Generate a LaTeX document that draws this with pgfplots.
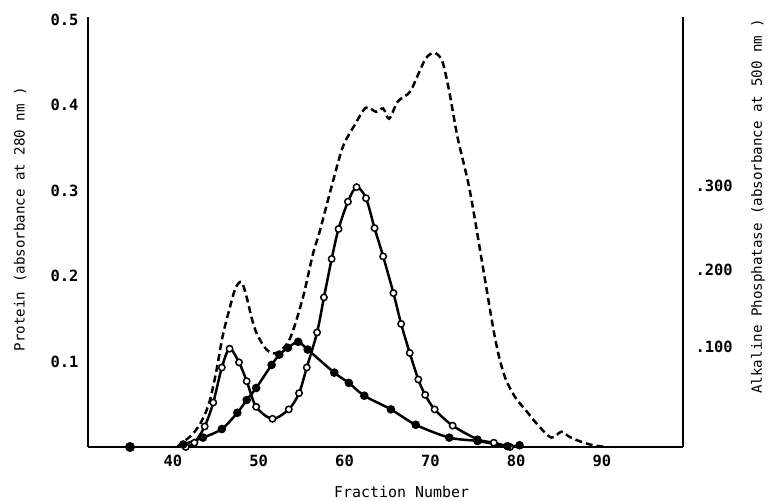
\documentclass[border=0pt]{standalone}
\usepackage{pgfplots}
\pgfplotsset{compat=1.18}
\usepackage{fontspec}
\setmainfont{DejaVu Sans Mono}

% protein, absorbance at 280 nm (dashed trace)
\pgfplotstableread{
x y
40.5 0.000
41.2 0.006
42.2 0.014
43.1 0.026
43.8 0.040
44.4 0.058
45.1 0.091
45.8 0.130
46.6 0.162
47.3 0.186
48.0 0.193
48.6 0.175
49.2 0.150
49.8 0.132
50.9 0.114
52.1 0.110
53.6 0.126
55.1 0.173
56.3 0.225
57.1 0.252
58.5 0.305
59.8 0.351
61.2 0.377
62.5 0.397
63.7 0.392
64.5 0.396
65.2 0.384
66.2 0.404
67.6 0.415
68.5 0.434
69.5 0.455
70.5 0.461
71.4 0.451
72.2 0.416
73.2 0.361
74.6 0.300
76.3 0.200
77.4 0.135
78.1 0.102
78.8 0.079
79.9 0.058
81.2 0.042
82.6 0.025
84.1 0.011
85.3 0.018
86.2 0.012
87.6 0.006
89.0 0.002
90.5 0.000
}\protein

% open circles
\pgfplotstableread{
x y
41.5 0.000
42.5 0.005
43.7 0.024
44.7 0.052
45.7 0.093
46.6 0.115
47.7 0.099
48.6 0.077
49.7 0.047
51.6 0.033
53.5 0.044
54.7 0.063
55.6 0.093
56.8 0.134
57.6 0.175
58.5 0.220
59.3 0.255
60.4 0.287
61.4 0.304
62.5 0.291
63.5 0.256
64.5 0.223
65.7 0.180
66.6 0.144
67.6 0.110
68.6 0.079
69.4 0.061
70.5 0.044
72.6 0.025
75.5 0.009
77.4 0.005
79.3 0.000
}\opencirc

% filled dots
\pgfplotstableread{
x y
41.2 0.003
43.5 0.011
45.7 0.021
47.5 0.040
48.6 0.055
49.7 0.069
51.5 0.096
52.4 0.108
53.4 0.116
54.6 0.123
55.7 0.114
58.8 0.087
60.5 0.075
62.3 0.060
65.4 0.044
68.3 0.026
72.2 0.011
75.5 0.007
79.0 0.001
80.4 0.002
}\filled

\begin{document}
\begin{tikzpicture}
\path[use as bounding box] (-88bp,-54bp) rectangle (682bp,447bp);
\begin{axis}[
  scale only axis, width=595bp, height=430bp,
  xmin=30.1, xmax=99.45, ymin=0, ymax=0.503,
  axis x line*=bottom, axis y line*=left,
  axis line style={line width=2.5pt},
  xtick={40,50,60,70,80,90}, xticklabels={40,50,60,70,80,90},
  ytick={0.1,0.2,0.3,0.4,0.5}, yticklabels={0.1,0.2,0.3,0.4,0.5},
  major tick length=0,
  tick label style={font=\fontsize{15.5}{17}\selectfont\bfseries},
  xticklabel style={yshift=-5bp},
  yticklabel style={xshift=-6bp},
  xlabel={Fraction Number},
  ylabel={Protein (absorbance at 280 nm )},
  every axis x label/.style={at={(axis description cs:0.527,-0.105)}, anchor=center,
    font=\fontsize{15}{17}\selectfont},
  every axis y label/.style={at={(axis description cs:-0.114,0.53)}, anchor=center, rotate=90,
    font=\fontsize{14.2}{16}\selectfont},
]
\addplot[black, line width=2.5pt, dash pattern=on 7pt off 4pt, smooth, tension=0.5] table {\protein};
\addplot[black, line width=2.5pt, smooth, tension=0.5, mark=*, mark size=3.2pt,
  mark options={solid, fill=white, draw=black, line width=1.5pt}] table {\opencirc};
\addplot[black, line width=2.5pt, smooth, tension=0.5, mark=*, mark size=3pt,
  mark options={solid, fill=black}] table {\filled};
\addplot[only marks, mark=*, mark size=4.8pt, black] coordinates {(35,0)};
\end{axis}
\begin{axis}[
  scale only axis, width=595bp, height=430bp,
  xmin=30.1, xmax=99.45, ymin=0, ymax=0.503,
  axis x line=none, axis y line*=right,
  axis line style={line width=2.5pt},
  ytick={0.117,0.207,0.306}, yticklabels={.100,.200,.300},
  major tick length=0,
  tick label style={font=\fontsize{15.5}{17}\selectfont\bfseries},
  yticklabel style={xshift=9bp},
  ylabel={Alkaline Phosphatase (absorbance at 500 nm )},
  every axis y label/.style={at={(axis description cs:1.126,0.56)}, anchor=center, rotate=90,
    font=\fontsize{14.2}{16}\selectfont},
]
\end{axis}
\end{tikzpicture}
\end{document}
